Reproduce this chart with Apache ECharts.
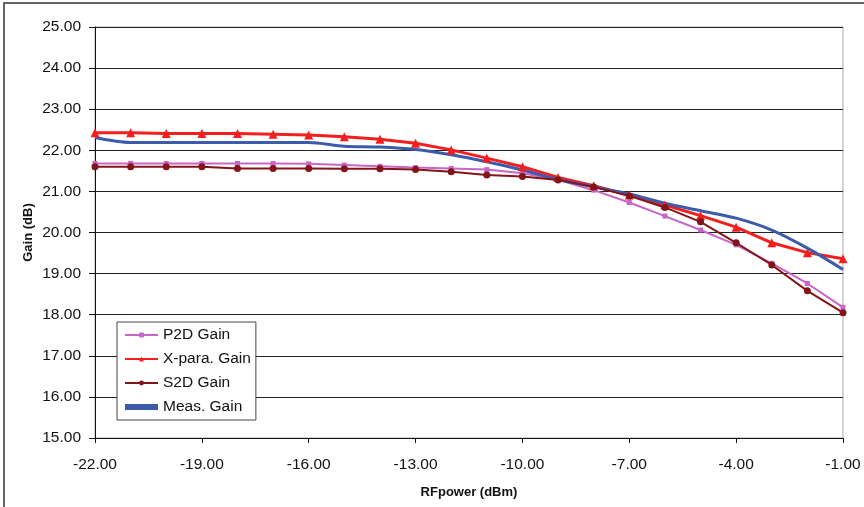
<!DOCTYPE html>
<html>
<head>
<meta charset="utf-8">
<script src="https://cdn.jsdelivr.net/npm/echarts@6/dist/echarts.min.js"></script>
<style>html,body{margin:0;padding:0;background:#fff}#c{width:864px;height:507px}</style>
</head>
<body>
<div id="c"></div>
<script>
const rfPower = [-22,-21,-20,-19,-18,-17,-16,-15,-14,-13,-12,-11,-10,-9,-8,-7,-6,-5,-4,-3,-2,-1];
const p2dGain = [21.68,21.68,21.68,21.68,21.68,21.68,21.67,21.64,21.61,21.58,21.56,21.53,21.44,21.28,21.03,20.73,20.40,20.06,19.70,19.25,18.76,18.18];
const xparaGain = [22.43,22.43,22.41,22.41,22.41,22.39,22.37,22.33,22.27,22.17,22.01,21.81,21.60,21.34,21.14,20.91,20.67,20.41,20.13,19.75,19.51,19.36];
const s2dGain = [21.60,21.60,21.60,21.60,21.56,21.56,21.56,21.55,21.55,21.53,21.48,21.40,21.36,21.28,21.11,20.89,20.61,20.26,19.75,19.21,18.58,18.05];
const measGain = [22.31,22.19,22.19,22.19,22.19,22.19,22.19,22.10,22.08,22.02,21.89,21.72,21.52,21.29,21.11,20.94,20.71,20.53,20.35,20.06,19.62,19.10];
const seriesNames = ['P2D Gain','X-para. Gain','S2D Gain','Meas. Gain'];

const pair = arr => rfPower.map((x,i)=>[x,arr[i]]);
const font = 'Liberation Sans, Arial, sans-serif';

const chart = echarts.init(document.getElementById('c'));
chart.setOption({
  animation:false,
  backgroundColor:'#fff',
  graphic:[{type:'rect',shape:{x:4,y:3,width:900,height:540},style:{fill:'none',stroke:'#333',lineWidth:1.5},silent:true}],
  grid:{left:95,right:21,top:27,bottom:69,show:true,borderColor:'#aaa',borderWidth:1},
  legend:{
    orient:'vertical',left:117,top:322,itemGap:8,itemWidth:33,itemHeight:6,
    backgroundColor:'#fff',borderColor:'#444',borderWidth:1,padding:[5,5,5,7],
    textStyle:{fontFamily:font,fontSize:15.5,color:'#111'},
    data:[
      {name:seriesNames[0]},
      {name:seriesNames[1]},
      {name:seriesNames[2]},
      {name:seriesNames[3],icon:'rect'}
    ]
  },
  xAxis:{
    type:'value',min:-22,max:-1,interval:3,
    name:'RFpower (dBm)',nameLocation:'middle',nameGap:48,
    nameTextStyle:{fontFamily:font,fontSize:13,fontWeight:'bold',color:'#111'},
    axisLine:{show:true,onZero:false,lineStyle:{color:'#111',width:1}},
    axisTick:{show:true,length:5,lineStyle:{color:'#111'}},
    axisLabel:{fontFamily:font,fontSize:15.5,color:'#111',margin:19,formatter:v=>v.toFixed(2)},
    splitLine:{show:false}
  },
  yAxis:{
    type:'value',min:15,max:25,interval:1,
    name:'Gain (dB)',nameLocation:'middle',nameGap:60,nameRotate:90,nameMoveOverlap:false,
    nameTextStyle:{fontFamily:font,fontSize:13,fontWeight:'bold',color:'#111'},
    axisLine:{show:true,lineStyle:{color:'#111',width:1}},
    axisTick:{show:true,length:6,lineStyle:{color:'#111'}},
    axisLabel:{fontFamily:font,fontSize:15.5,color:'#111',margin:14,formatter:v=>v.toFixed(2)},
    splitLine:{show:true,lineStyle:{color:'#222',width:1}}
  },
  series:[
    {name:seriesNames[0],type:'line',data:pair(p2dGain),symbol:'rect',symbolSize:5,
     lineStyle:{color:'#c865c8',width:2},itemStyle:{color:'#c865c8'},z:2},
    {name:seriesNames[1],type:'line',data:pair(xparaGain),symbol:'triangle',symbolSize:9,
     lineStyle:{color:'#f41e1e',width:3},itemStyle:{color:'#f41e1e'},z:3},
    {name:seriesNames[2],type:'line',data:pair(s2dGain),symbol:'circle',symbolSize:7,
     lineStyle:{color:'#831417',width:2},itemStyle:{color:'#831417'},z:4},
    {name:seriesNames[3],type:'line',data:pair(measGain),symbol:'none',smooth:0.3,
     lineStyle:{color:'#3d5bab',width:3},itemStyle:{color:'#3d5bab'},z:3}
  ]
});
</script>
</body>
</html>
